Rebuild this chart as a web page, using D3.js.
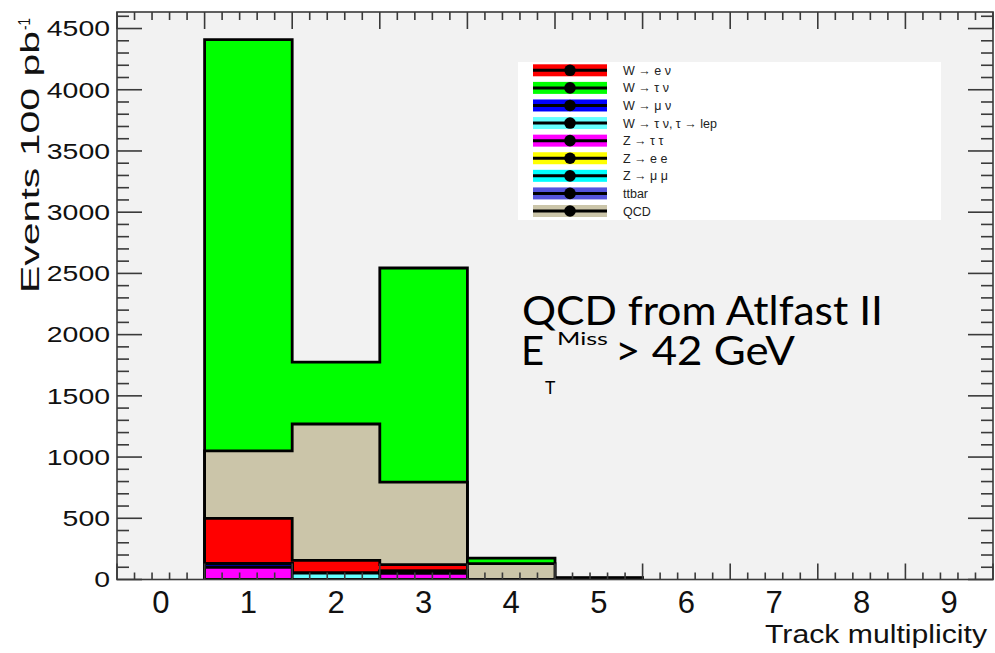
<!DOCTYPE html>
<html>
<head>
<meta charset="utf-8">
<script src="https://cdn.jsdelivr.net/npm/d3@7"></script>
<style>
  html, body { margin: 0; padding: 0; background: #ffffff; }
  svg { display: block; }
  text { font-family: "Liberation Sans", Arial, Helvetica, sans-serif; }
  text.note { font-family: Lato, "Open Sans", "Noto Sans", sans-serif; }
</style>
</head>
<body>
<svg id="chart" width="995" height="653"></svg>
<script>
// Track multiplicity bins (one per integer, edges at half-integers)
const trackBins = [0, 1, 2, 3, 4, 5, 6, 7, 8, 9];
const xTickLabels = ["0", "1", "2", "3", "4", "5", "6", "7", "8", "9"];
const yTickValues = [0, 500, 1000, 1500, 2000, 2500, 3000, 3500, 4000, 4500];

// Expected events per bin for 100 pb^-1
const zTauTau   = [0, 100,    0,   50,   0,  0, 0, 0, 0, 0];
const wTauNuLep = [0,   0,   52,    0,   0,  0, 0, 0, 0, 0];
const wMuNu     = [0,  30,    0,   18,   0,  0, 0, 0, 0, 0];
const zEE       = [0,   0,    0,    0,   0,  0, 0, 0, 0, 0];
const zMuMu     = [0,   0,    0,    0,   0,  0, 0, 0, 0, 0];
const ttbar     = [0,   0,    0,    0,   0,  0, 0, 0, 0, 0];
const wENu      = [0, 370,  105,   54,   0,  3, 0, 0, 0, 0];
const qcd       = [0, 550, 1113,  674, 130,  9, 0, 0, 0, 0];
const wTauNu    = [0, 3360, 506, 1748,  45,  3, 0, 0, 0, 0];

// Process descriptions (legend order)
const processes = [
  { key: "wENu",      label: "W \u2192 e \u03BD",                     color: "#ff0000", values: wENu },
  { key: "wTauNu",    label: "W \u2192 \u03C4 \u03BD",                color: "#00ff00", values: wTauNu },
  { key: "wMuNu",     label: "W \u2192 \u03BC \u03BD",                color: "#0000ff", values: wMuNu },
  { key: "wTauNuLep", label: "W \u2192 \u03C4 \u03BD, \u03C4 \u2192 lep", color: "#66ffff", values: wTauNuLep },
  { key: "zTauTau",   label: "Z \u2192 \u03C4 \u03C4",               color: "#ff00ff", values: zTauTau },
  { key: "zEE",       label: "Z \u2192 e e",                          color: "#ffff00", values: zEE },
  { key: "zMuMu",     label: "Z \u2192 \u03BC \u03BC",                color: "#00ffff", values: zMuMu },
  { key: "ttbar",     label: "ttbar",                                 color: "#5555dd", values: ttbar },
  { key: "qcd",       label: "QCD",                                   color: "#cbc5a9", values: qcd }
];

// Stacking order, bottom to top
const stackOrder = ["zTauTau", "wTauNuLep", "wMuNu", "zEE", "zMuMu", "ttbar", "wENu", "qcd", "wTauNu"];

const svg = d3.select("#chart");
const plot = { left: 117, right: 993, top: 12, bottom: 579.5 };

const x = d3.scaleLinear().domain([-0.5, 9.5]).range([plot.left, plot.right]);
const y = d3.scaleLinear().domain([0, 4635]).range([plot.bottom, plot.top]);

// Frame background
svg.append("rect")
  .attr("x", plot.left).attr("y", plot.top)
  .attr("width", plot.right - plot.left).attr("height", plot.bottom - plot.top)
  .attr("fill", "#f2f2f2");

svg.append("clipPath").attr("id", "plotClip")
  .append("rect")
  .attr("x", plot.left).attr("y", plot.top - 2)
  .attr("width", plot.right - plot.left).attr("height", plot.bottom - plot.top + 2);

// Cumulative sums for the stack
const byKey = Object.fromEntries(processes.map(p => [p.key, p]));
let running = trackBins.map(() => 0);
const layers = stackOrder.map(k => {
  running = running.map((v, i) => v + byKey[k].values[i]);
  return { key: k, color: byKey[k].color, cum: running.slice() };
});

const total = layers[layers.length - 1].cum;
const filled = trackBins.filter((b, i) => total[i] > 0);
const firstBin = d3.min(filled), lastBin = d3.max(filled);

const stepLine = d3.line().x(d => x(d[0])).y(d => y(d[1]));

function layerPoints(cum) {
  const pts = [[firstBin - 0.5, 0]];
  for (let b = firstBin; b <= lastBin; b++) {
    pts.push([b - 0.5, cum[b]]);
    pts.push([b + 0.5, cum[b]]);
  }
  pts.push([lastBin + 0.5, 0]);
  return pts;
}

// Draw the stack from the full sum downwards so each lower sum covers the one above
const gStack = svg.append("g").attr("clip-path", "url(#plotClip)");
layers.slice().reverse().forEach(L => {
  gStack.append("path")
    .attr("d", stepLine(layerPoints(L.cum)) + "Z")
    .attr("fill", L.color)
    .attr("stroke", "#000")
    .attr("stroke-width", 2.8)
    .attr("stroke-linejoin", "miter");
});

// Frame and ticks
const axisColor = "#3a3a3a";
const gAxes = svg.append("g").attr("stroke", axisColor).attr("fill", "none");
gAxes.append("rect")
  .attr("x", plot.left).attr("y", plot.top)
  .attr("width", plot.right - plot.left).attr("height", plot.bottom - plot.top)
  .attr("stroke-width", 1.6);

// x ticks: major on bin edges, minor every 0.2
const xMajor = d3.range(-0.5, 9.51, 1);
const xMinor = d3.range(-0.5, 9.5, 0.2).filter(v => Math.abs(v - Math.round(v - 0.5) - 0.5) > 1e-6);
xMajor.forEach(v => {
  gAxes.append("line").attr("x1", x(v)).attr("x2", x(v)).attr("y1", plot.bottom).attr("y2", plot.bottom - 16).attr("stroke-width", 1.6);
  gAxes.append("line").attr("x1", x(v)).attr("x2", x(v)).attr("y1", plot.top).attr("y2", plot.top + 17).attr("stroke-width", 1.6);
});
xMinor.forEach(v => {
  gAxes.append("line").attr("x1", x(v)).attr("x2", x(v)).attr("y1", plot.bottom).attr("y2", plot.bottom - 7).attr("stroke-width", 1.6);
  gAxes.append("line").attr("x1", x(v)).attr("x2", x(v)).attr("y1", plot.top).attr("y2", plot.top + 8).attr("stroke-width", 1.6);
});

// y ticks: major every 500, minor every 100
const yMinor = d3.range(0, 4635, 100).filter(v => v % 500 !== 0);
yTickValues.forEach(v => {
  gAxes.append("line").attr("x1", plot.left).attr("x2", plot.left + 25).attr("y1", y(v)).attr("y2", y(v)).attr("stroke-width", 1.6);
  gAxes.append("line").attr("x1", plot.right).attr("x2", plot.right - 25).attr("y1", y(v)).attr("y2", y(v)).attr("stroke-width", 1.6);
});
yMinor.forEach(v => {
  gAxes.append("line").attr("x1", plot.left).attr("x2", plot.left + 12).attr("y1", y(v)).attr("y2", y(v)).attr("stroke-width", 1.6);
  gAxes.append("line").attr("x1", plot.right).attr("x2", plot.right - 12).attr("y1", y(v)).attr("y2", y(v)).attr("stroke-width", 1.6);
});

// Tick labels
const txt = svg.append("g").attr("fill", "#111");
trackBins.forEach((b, i) => {
  txt.append("text")
    .attr("x", x(b)).attr("y", 613)
    .attr("text-anchor", "middle")
    .attr("font-size", 31)
    .text(xTickLabels[i]);
});
yTickValues.forEach(v => {
  const s = String(v);
  txt.append("text")
    .attr("x", 110).attr("y", y(v) + 7.8)
    .attr("text-anchor", "end")
    .attr("font-size", 21.5)
    .attr("textLength", 15.8 * s.length)
    .attr("lengthAdjust", "spacingAndGlyphs")
    .text(s);
});

// Axis titles
txt.append("text")
  .attr("x", 987).attr("y", 643)
  .attr("text-anchor", "end")
  .attr("font-size", 25.5)
  .attr("textLength", 222)
  .attr("lengthAdjust", "spacingAndGlyphs")
  .text("Track multiplicity");

const yTitle = txt.append("text")
  .attr("transform", "translate(39,293) rotate(-90)")
  .attr("font-size", 26);
yTitle.append("tspan")
  .attr("x", 0).attr("y", 0)
  .attr("textLength", 262)
  .attr("lengthAdjust", "spacingAndGlyphs")
  .text("Events 100 pb");
yTitle.append("tspan")
  .attr("x", 263).attr("y", -9)
  .attr("font-size", 16)
  .attr("textLength", 12)
  .attr("lengthAdjust", "spacingAndGlyphs")
  .text("-1");

// Legend
const legend = svg.append("g");
legend.append("rect")
  .attr("x", 518).attr("y", 62).attr("width", 423).attr("height", 158)
  .attr("fill", "#ffffff");
const rowY = d3.scalePoint().domain(processes.map(p => p.key)).range([70.3, 211]);
processes.forEach(p => {
  const cy = rowY(p.key);
  legend.append("rect")
    .attr("x", 533).attr("y", cy - 6).attr("width", 74).attr("height", 12)
    .attr("fill", p.color);
  legend.append("line")
    .attr("x1", 533).attr("x2", 607).attr("y1", cy).attr("y2", cy)
    .attr("stroke", "#000").attr("stroke-width", 3);
  legend.append("circle")
    .attr("cx", 570).attr("cy", cy).attr("r", 5.8)
    .attr("fill", "#000");
  legend.append("text")
    .attr("x", 623).attr("y", cy + 4.6)
    .attr("font-size", 12.5)
    .attr("fill", "#222")
    .text(p.label);
});

// Selection note, two lines in one text block
const note = svg.append("text").attr("class", "note").attr("fill", "#000");
note.append("tspan")
  .attr("x", 522).attr("y", 325)
  .attr("font-size", 41)
  .attr("textLength", 361)
  .attr("lengthAdjust", "spacingAndGlyphs")
  .text("QCD from Atlfast II");
note.append("tspan")
  .attr("x", 521).attr("y", 365)
  .attr("font-size", 40)
  .text("E");
note.append("tspan")
  .attr("x", 545).attr("y", 394)
  .attr("font-size", 17.5)
  .text("T");
note.append("tspan")
  .attr("x", 557).attr("y", 345)
  .attr("font-size", 17.5)
  .attr("textLength", 51)
  .attr("lengthAdjust", "spacingAndGlyphs")
  .text("Miss");
note.append("tspan")
  .attr("x", 615).attr("y", 365)
  .attr("font-size", 40)
  .attr("textLength", 180)
  .attr("lengthAdjust", "spacingAndGlyphs")
  .text("> 42 GeV");
</script>
</body>
</html>
